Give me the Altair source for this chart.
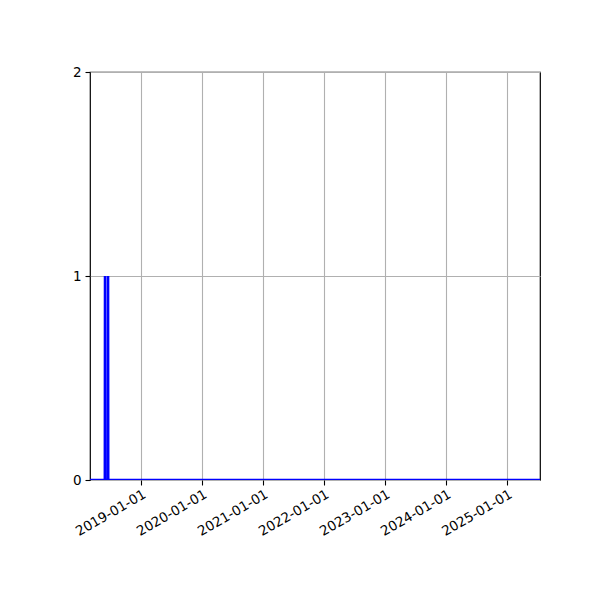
import altair as alt
import pandas as pd

dates = ["2018-03-02", "2018-05-30", "2018-05-31", "2018-06-01",
         "2018-06-17", "2018-06-18", "2018-06-19", "2025-07-17"]
values = [0, 0, 1, 0, 0, 1, 0, 0]
tick_years = [2019, 2020, 2021, 2022, 2023, 2024, 2025]
y_tick_count = 2  # gives ticks 0, 1, 2

df = pd.DataFrame({"date": dates, "value": values})

x_vals = [alt.DateTime(year=y, month=1, date=1, utc=True) for y in tick_years]

chart = alt.Chart(df).mark_line(color="#0000ff", strokeWidth=2.6, clip=True).encode(
    x=alt.X("date:T",
            scale=alt.Scale(type="utc",
                            domain=[alt.DateTime(year=2018, month=3, date=2, utc=True),
                                    alt.DateTime(year=2025, month=7, date=17, utc=True)]),
            axis=alt.Axis(values=x_vals,
                          labelExpr="utcFormat(datum.value, '%Y-%m-%d')",
                          labelAngle=330, labelAlign="right", labelBaseline="top",
                          labelPadding=2, title=None, labelOverlap=False)),
    y=alt.Y("value:Q", scale=alt.Scale(domain=[0, 2], nice=False, zero=True),
            axis=alt.Axis(tickCount=y_tick_count, format="d", title=None,
                          labelPadding=4, labelOverlap=False)),
).properties(
    width=450, height=408,
    background="white",
    autosize=alt.AutoSizeParams(type="none"),
    padding={"left": 82, "top": 64, "right": 52, "bottom": 112},
).configure_view(
    stroke="black", strokeWidth=1.2, fill="white"
).configure_axis(
    domain=False, grid=True, gridColor="#b0b0b0", gridWidth=1.1, gridOpacity=1,
    tickColor="black", tickSize=5, tickWidth=1.1,
    labelColor="black", labelFont="DejaVu Sans", labelFontSize=13.5,
)

chart.save("out.html", embed_options={"renderer": "svg", "actions": False})
